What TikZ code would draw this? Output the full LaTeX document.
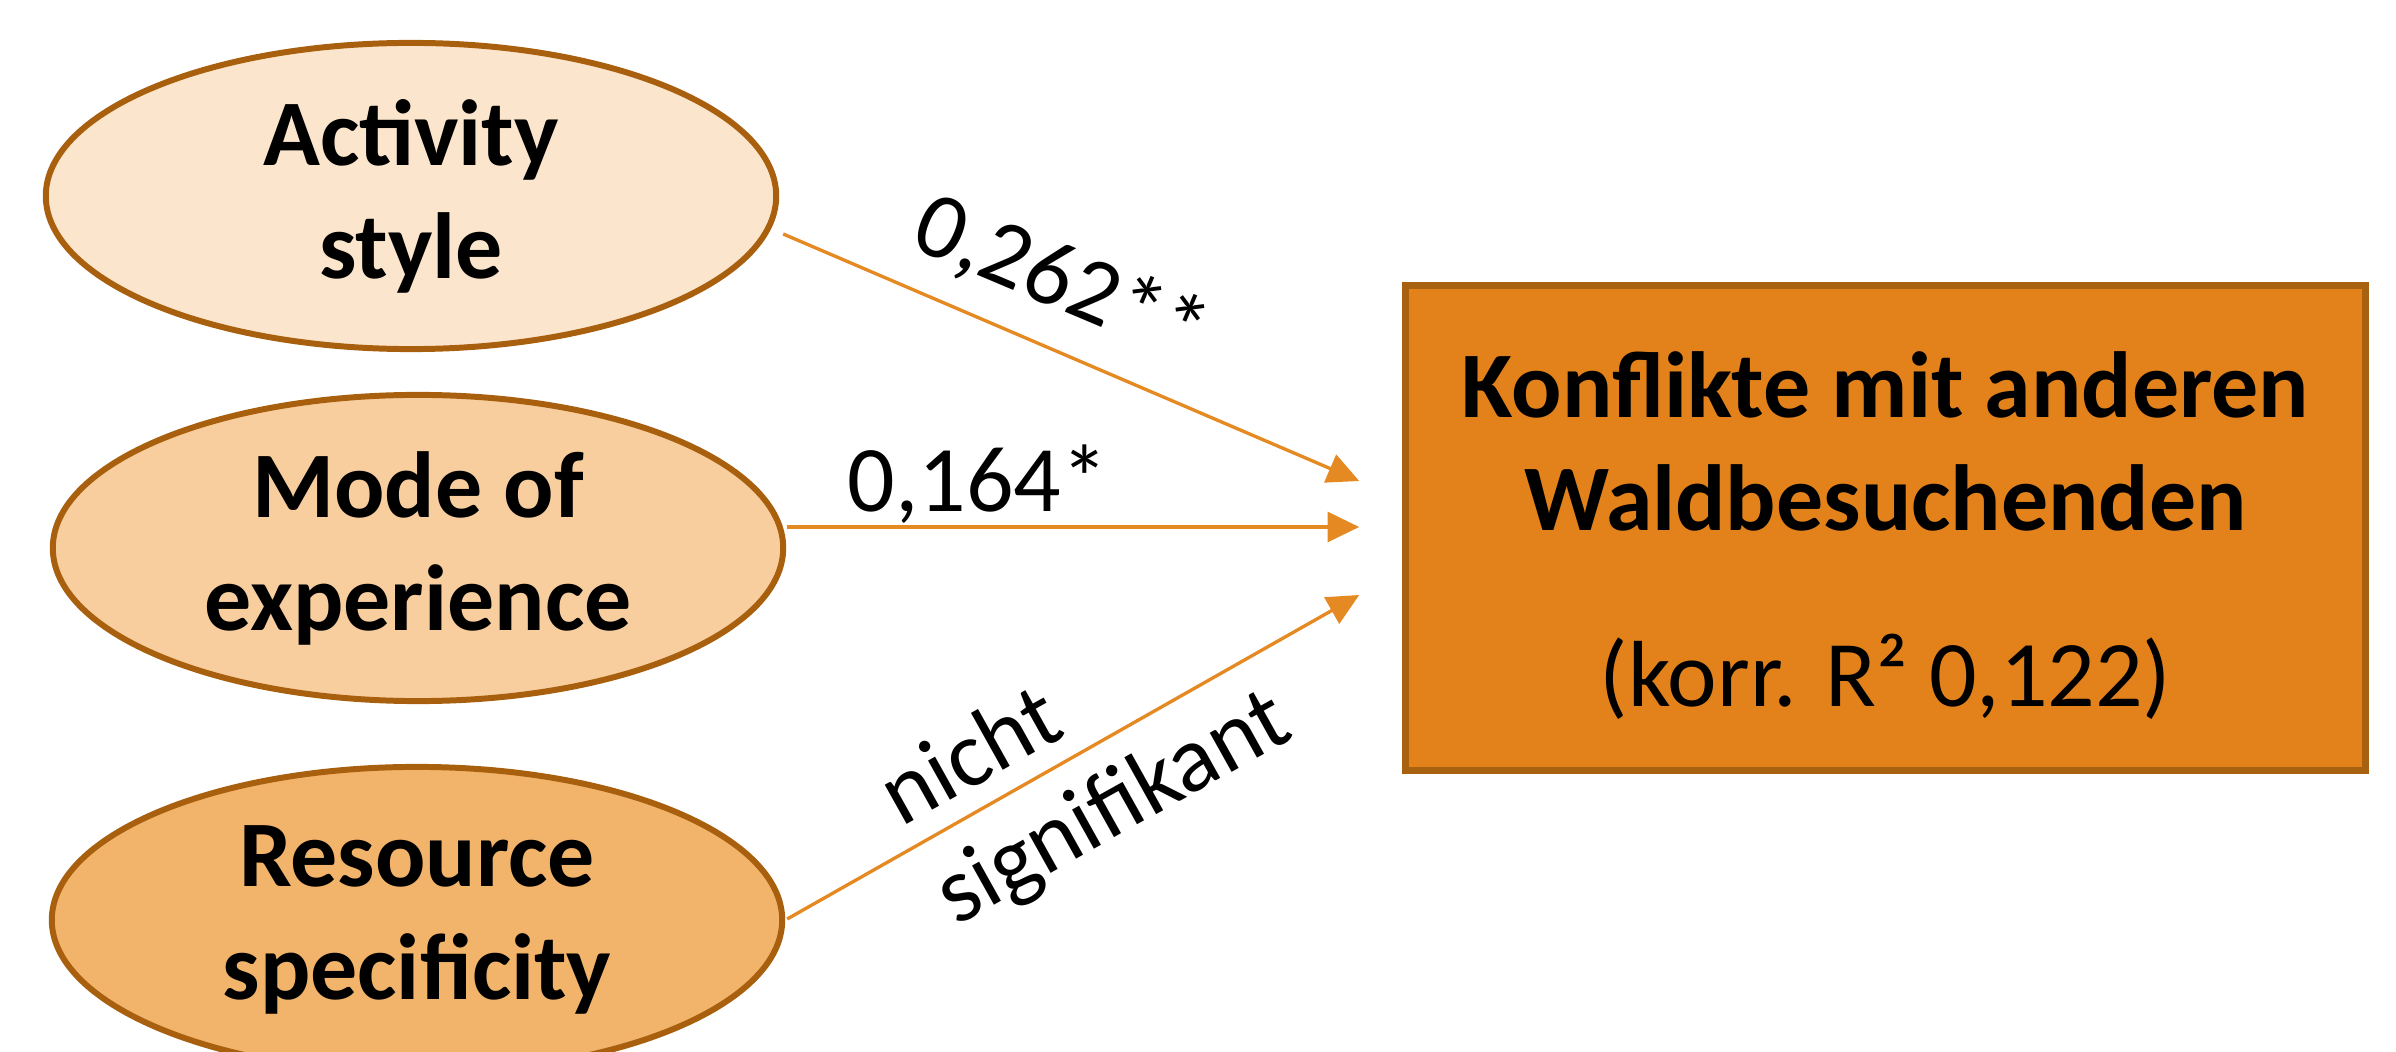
\documentclass[tikz,border=0pt]{standalone}
\usepackage{fontspec}
\setmainfont{Carlito}
\usetikzlibrary{arrows.meta,calc,shapes.geometric}
\definecolor{ovalborder}{HTML}{A9600E}
\definecolor{ovalA}{HTML}{FBE5CC}
\definecolor{ovalB}{HTML}{F8CE9F}
\definecolor{ovalC}{HTML}{F2B46B}
\definecolor{boxfill}{HTML}{E3821A}
\definecolor{boxborder}{HTML}{A8620F}
\definecolor{arrowcol}{HTML}{E58A22}
\begin{document}
\begin{tikzpicture}[x=0.01cm,y=-0.01cm,
  oval/.style={ellipse, draw=ovalborder, line width=1.7pt, minimum width=7.3cm,
    minimum height=3.06cm, inner sep=0pt, align=center,
    font=\fontsize{26.7}{32.1}\selectfont\bfseries},
  targetbox/.style={rectangle, draw=boxborder, fill=boxfill, line width=2pt,
    minimum width=9.59cm, minimum height=4.84cm, inner sep=0pt, align=center,
    font=\fontsize{26.7}{32.1}\selectfont},
  arr/.style={draw=arrowcol, line width=0.95pt,
    -{Triangle[length=9pt,width=8.5pt,fill=arrowcol]}},
  lbl/.style={font=\fontsize{26.7}{32.1}\selectfont, inner sep=0pt}]
\useasboundingbox (0,0) rectangle (2396,1052);
\clip (0,0) rectangle (2396,1052);

\node[oval, fill=ovalA] (e1) at (411,196) {Activity\\style};
\node[oval, fill=ovalB] (e2) at (418,548) {Mode of\\experience};
\node[oval, fill=ovalC] (e3) at (417,920) {Resource\\specificity};

\node[targetbox] (box) at (1885.5,528)
  {\rule{0pt}{\dimexpr\fontcharht\font`\l+0.16cm\relax}\textbf{Konflikte mit anderen}\\\textbf{Waldbesuchenden}\\[0.64cm](korr. R² 0,122)};

\coordinate (s1) at ($(e1.east)+(4,38)$);
\coordinate (s2) at ($(e2.east)+(1,-21)$);
\coordinate (s3) at ($(e3.east)+(2,-1)$);
\coordinate (t1) at ($(box.west)+(-43,-47)$);
\coordinate (t2) at ($(box.west)+(-43,-1)$);
\coordinate (t3) at ($(box.west)+(-43,67)$);

\draw[arr] (s1) -- (t1);
\draw[arr] (s2) -- (t2);
\draw[arr] (s3) -- (t3);

\node[lbl, anchor=base, rotate=-22.9] (l1)
  at ($ ($(s1)!0.436!(t1)$) ! 0.39cm ! 90:(t1) $) {0,262**};
\node[lbl, anchor=base, yshift=4.5pt] (l2) at ($(s2)!0.333!(t2)$) {0,164*};
\node[lbl, align=left, rotate=29.2] (l3)
  at ($ ($(s3)!0.515!(t3)$) ! 0.1cm ! -90:(t3) $) {nicht\\signifikant};
\end{tikzpicture}
\end{document}
